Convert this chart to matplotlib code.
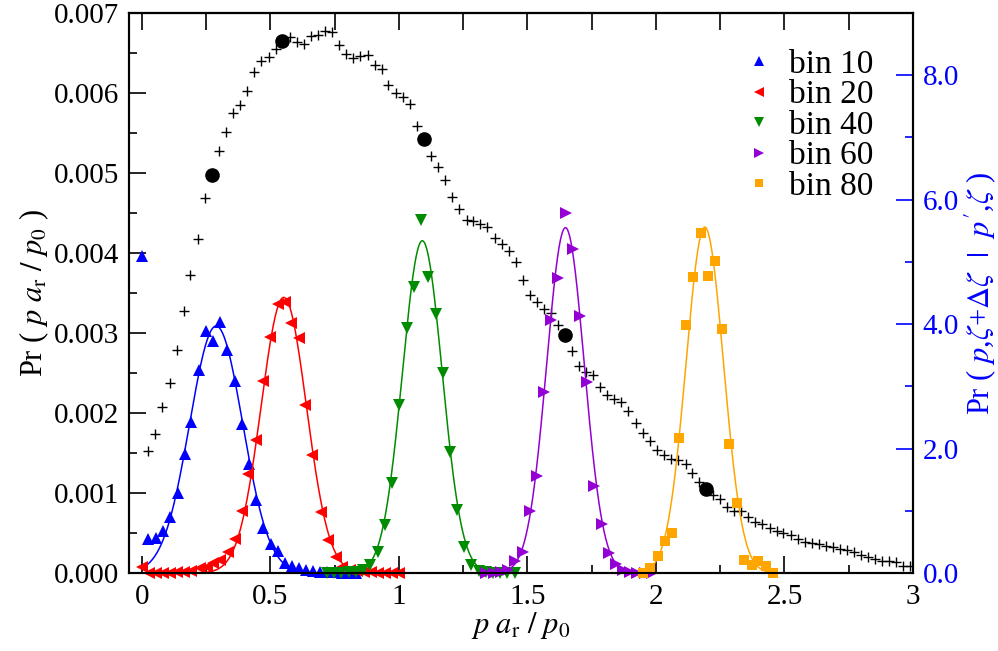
import numpy as np
import matplotlib
matplotlib.use("Agg")
import matplotlib.pyplot as plt
from matplotlib.ticker import MultipleLocator

plt.rcParams['font.family'] = ['Liberation Serif', 'DejaVu Serif']
plt.rcParams['mathtext.fontset'] = 'stix'

# Pr(p a_r / p0) histogram (left axis)
x_all = [0.025, 0.051, 0.079, 0.108, 0.136, 0.162, 0.189, 0.217, 0.245, 0.272,
         0.300, 0.327, 0.355, 0.383, 0.410, 0.437, 0.464, 0.493, 0.520, 0.546,
         0.575, 0.602, 0.629, 0.656, 0.684, 0.712, 0.739, 0.767, 0.795, 0.822,
         0.849, 0.878, 0.905, 0.933, 0.958, 0.987, 1.016, 1.043, 1.069, 1.097,
         1.124, 1.153, 1.180, 1.207, 1.235, 1.263, 1.289, 1.315, 1.344, 1.374,
         1.400, 1.427, 1.454, 1.481, 1.509, 1.536, 1.563, 1.590, 1.619, 1.646,
         1.673, 1.702, 1.726, 1.756, 1.782, 1.808, 1.838, 1.864, 1.892, 1.921,
         1.949, 1.975, 2.004, 2.030, 2.057, 2.087, 2.116, 2.140, 2.167, 2.196,
         2.223, 2.249, 2.275, 2.304, 2.330, 2.359, 2.385, 2.414, 2.444, 2.470,
         2.495, 2.524, 2.551, 2.580, 2.606, 2.634, 2.661, 2.690, 2.716, 2.744,
         2.770, 2.798, 2.826, 2.852, 2.881, 2.908, 2.934, 2.960, 2.988]
pr_all = [0.00152, 0.00174, 0.00207, 0.00238, 0.00279, 0.00328, 0.00372, 0.00418, 0.00469, 0.00498,
          0.00527, 0.00551, 0.00575, 0.00585, 0.00602, 0.00626, 0.00640, 0.00645, 0.00655, 0.00665,
          0.00670, 0.00664, 0.00661, 0.00671, 0.00672, 0.00678, 0.00676, 0.00660, 0.00649, 0.00644,
          0.00646, 0.00647, 0.00635, 0.00630, 0.00610, 0.00600, 0.00595, 0.00586, 0.00559, 0.00543,
          0.00521, 0.00507, 0.00491, 0.00470, 0.00455, 0.00441, 0.00440, 0.00436, 0.00432, 0.00419,
          0.00411, 0.00403, 0.00389, 0.00366, 0.00347, 0.00339, 0.00330, 0.00325, 0.00310, 0.00298,
          0.00277, 0.00259, 0.00251, 0.00248, 0.00232, 0.00223, 0.00217, 0.00214, 0.00202, 0.00188,
          0.00175, 0.00165, 0.00154, 0.00148, 0.00143, 0.00141, 0.00136, 0.00125, 0.00114, 0.00105,
          0.00097, 0.00093, 0.00083, 0.00078, 0.00077, 0.00070, 0.00064, 0.00061, 0.00056, 0.00052,
          0.00050, 0.00048, 0.00043, 0.00039, 0.00038, 0.00036, 0.00034, 0.00032, 0.00030, 0.00029,
          0.00026, 0.00023, 0.00020, 0.00018, 0.00015, 0.00015, 0.00014, 0.00009, 0.00009]

# highlighted bins
x_dots = [0.272, 0.546, 1.097, 1.646, 2.196]
pr_dots = [0.00498, 0.00665, 0.00543, 0.00298, 0.00105]

# conditional distributions (right axis)
x_b10 = [0.0, 0.025, 0.053, 0.082, 0.110, 0.139, 0.166, 0.193, 0.221, 0.249, 0.276,
         0.305, 0.332, 0.361, 0.390, 0.418, 0.445, 0.473, 0.502, 0.528, 0.555, 0.584,
         0.612, 0.640, 0.667, 0.694, 0.722, 0.750, 0.777, 0.805, 0.832]
y_b10 = [5.09, 0.54, 0.57, 0.68, 0.90, 1.29, 1.92, 2.43, 3.27, 3.89, 3.73,
         4.03, 3.59, 3.09, 2.39, 1.75, 1.18, 0.73, 0.47, 0.36, 0.16, 0.12,
         0.08, 0.05, 0.03, 0.02, 0.01, 0.01, 0.0, 0.0, 0.0]

x_b20 = [0.0, 0.027, 0.054, 0.082, 0.110, 0.137, 0.165, 0.192, 0.226, 0.252, 0.277,
         0.304, 0.336, 0.362, 0.388, 0.414, 0.444, 0.472, 0.498, 0.530, 0.556, 0.582,
         0.611, 0.634, 0.663, 0.695, 0.725, 0.754, 0.780, 0.808, 0.835, 0.863, 0.890,
         0.918, 0.945, 0.973, 1.000]
y_b20 = [0.10, 0.0, 0.0, 0.0, 0.0, 0.01, 0.01, 0.03, 0.075, 0.10, 0.16,
         0.21, 0.34, 0.54, 1.00, 1.59, 2.14, 3.09, 3.79, 4.32, 4.36, 4.02,
         3.77, 2.70, 1.90, 0.98, 0.53, 0.26, 0.10, 0.05, 0.03, 0.02, 0.01,
         0.0, 0.0, 0.0, 0.0]

x_b40 = [0.720, 0.748, 0.776, 0.804, 0.832, 0.860, 0.887, 0.917, 0.946, 0.975, 1.001,
         1.030, 1.058, 1.086, 1.114, 1.143, 1.170, 1.198, 1.227, 1.253, 1.279, 1.310,
         1.338, 1.366, 1.394, 1.422, 1.450]
y_b40 = [0.0, 0.0, 0.0, 0.01, 0.02, 0.05, 0.13, 0.33, 0.77, 1.45, 2.70,
         3.93, 4.60, 5.68, 4.76, 4.17, 3.21, 1.95, 1.02, 0.41, 0.13, 0.04,
         0.01, 0.0, 0.0, 0.0, 0.0]

x_b60 = [1.340, 1.368, 1.396, 1.426, 1.451, 1.481, 1.510, 1.536, 1.565, 1.590, 1.620,
         1.650, 1.676, 1.704, 1.730, 1.760, 1.789, 1.817, 1.844, 1.873, 1.900, 1.928,
         1.956, 1.984]
y_b60 = [0.0, 0.0, 0.01, 0.05, 0.19, 0.33, 1.00, 1.56, 2.91, 4.06, 4.74,
         5.78, 5.21, 4.13, 3.07, 1.40, 0.79, 0.32, 0.14, 0.05, 0.02, 0.0,
         0.0, 0.0]

x_b80 = [1.950, 1.977, 2.007, 2.035, 2.063, 2.091, 2.116, 2.145, 2.174, 2.202,
         2.230, 2.257, 2.285, 2.314, 2.342, 2.372, 2.398, 2.428, 2.456]
y_b80 = [0.005, 0.075, 0.28, 0.51, 0.65, 2.17, 3.98, 4.75, 5.47, 4.77,
         5.01, 3.92, 2.07, 1.12, 0.21, 0.13, 0.19, 0.11, 0.0]

labels = ['bin 10', 'bin 20', 'bin 40', 'bin 60', 'bin 80']
colors = ['#0000ff', '#ff0000', '#008b00', '#9400d3', '#ffa500']
markers = ['^', '<', 'v', '>', 's']

# gaussian fits: centre, width, height, range
fit_mu = [0.289, 0.552, 1.091, 1.648, 2.190]
fit_sigma = [0.103, 0.088, 0.077, 0.073, 0.073]
fit_amp = [3.97, 4.43, 5.34, 5.55, 5.56]
fit_lo = [0.0, 0.0, 0.72, 1.34, 1.95]
fit_hi = [0.83, 1.0, 1.45, 1.98, 2.46]

fig = plt.figure(figsize=(9.98, 6.51), dpi=100)
ax = fig.add_axes([0.1293, 0.1198, 0.7855, 0.8602])
ax2 = ax.twinx()

ax.plot(x_all, pr_all, ls='none', marker='+', ms=7.5, mew=1.0, color='black', zorder=3)
ax.plot(x_dots, pr_dots, ls='none', marker='o', ms=9.5, color='black', zorder=4)

bins = [(x_b10, y_b10), (x_b20, y_b20), (x_b40, y_b40), (x_b60, y_b60), (x_b80, y_b80)]
for i, (xb, yb) in enumerate(bins):
    xf = np.linspace(fit_lo[i], fit_hi[i], 300)
    yf = fit_amp[i] * np.exp(-(xf - fit_mu[i]) ** 2 / (2 * fit_sigma[i] ** 2))
    ax2.plot(xf, yf, color=colors[i], lw=1.1, clip_on=False)
    ms = 6.5 if markers[i] == 's' else 8
    ax2.plot(xb, yb, ls='none', marker=markers[i], ms=ms, mew=0,
             color=colors[i], label=labels[i], clip_on=False)

ax.set_xlim(-0.05, 3)
ax.set_ylim(0, 0.007)
ax2.set_ylim(0, 9)

ax.xaxis.set_minor_locator(MultipleLocator(0.25))
ax.yaxis.set_minor_locator(MultipleLocator(0.0005))
ax2.yaxis.set_minor_locator(MultipleLocator(1))

ax.set_xticks([0, 0.5, 1, 1.5, 2, 2.5, 3])
ax.set_xticklabels(['0', '0.5', '1', '1.5', '2', '2.5', '3'])
ax.set_yticks([0, 0.001, 0.002, 0.003, 0.004, 0.005, 0.006, 0.007])
ax.set_yticklabels(['0.000', '0.001', '0.002', '0.003', '0.004', '0.005', '0.006', '0.007'])
ax2.set_yticks([0, 2, 4, 6, 8])
ax2.set_yticklabels(['0.0', '2.0', '4.0', '6.0', '8.0'])

ax.tick_params(axis='both', which='both', direction='in', labelsize=21, width=1.2)
ax.tick_params(axis='x', which='major', length=12, pad=8, bottom=True, top=False)
ax.tick_params(axis='x', which='minor', length=6, bottom=True, top=False)
ax.tick_params(axis='y', which='major', length=12, pad=7)
ax.tick_params(axis='y', which='minor', length=6)
ax2.tick_params(axis='y', which='both', direction='in', colors='#0000ff', labelsize=21, width=1.2, pad=7)
ax2.tick_params(axis='y', which='major', length=12)
ax2.tick_params(axis='y', which='minor', length=6)

top = ax.secondary_xaxis('top')
top.set_xticks([0, 0.25, 0.5, 0.75, 1, 1.25, 1.5, 1.75, 2, 2.25, 2.5, 2.75])
top.tick_params(direction='in', length=12, width=1.2, labeltop=False)
top.spines['top'].set_linewidth(1.5)

for s in ax.spines.values():
    s.set_linewidth(1.5)
for s in ax2.spines.values():
    s.set_linewidth(1.5)

ax.set_xlabel(r'$p\ a_{\mathrm{r}}\ /\ p_0$', fontsize=22, labelpad=0)
ax.set_ylabel(r'Pr ( $p\ a_{\mathrm{r}}\ /\ p_0$ )', fontsize=22, labelpad=2)
ax2.set_ylabel(r"Pr ( $p$,$\zeta$+$\Delta\zeta$ $\ |\ $ $p'$,$\zeta$ )", fontsize=22,
               color='#0000ff', labelpad=2)

leg = ax2.legend(loc='upper left', bbox_to_anchor=(0.77, 0.965), frameon=False,
                 fontsize=24, handlelength=0.6, handletextpad=0.6,
                 labelspacing=0.0, borderpad=0, markerscale=0.85)

fig.savefig('out.png', dpi=100)
